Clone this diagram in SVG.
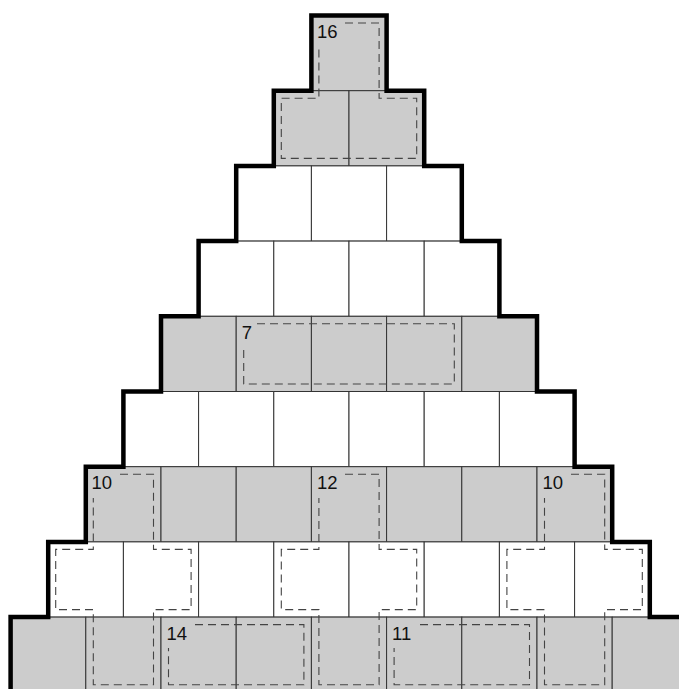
<svg xmlns="http://www.w3.org/2000/svg" width="679" height="689" viewBox="0 0 679 689">
<style>
.g{fill:#cccccc;stroke:#333333;stroke-width:1}
.w{fill:#ffffff;stroke:#333333;stroke-width:1}
.cage{fill:none;stroke:#444444;stroke-width:1.1;stroke-dasharray:8 5}
.lbl{font-family:"Liberation Sans",Arial,sans-serif;font-size:18.5px;fill:#111111}
.outline{fill:none;stroke:#000000;stroke-width:4.5;stroke-linejoin:miter;stroke-linecap:square}
</style>
<rect x="0" y="0" width="679" height="689" fill="#ffffff"/>
<g id="cells">
<g id="row0">
<rect id="c0-0" class="g" x="311.4" y="15.5" width="75.2" height="75.2"/>
</g>
<g id="row1">
<rect id="c1-0" class="g" x="273.8" y="90.7" width="75.2" height="75.2"/>
<rect id="c1-1" class="g" x="349" y="90.7" width="75.2" height="75.2"/>
</g>
<g id="row2">
<rect id="c2-0" class="w" x="236.2" y="165.9" width="75.2" height="75.2"/>
<rect id="c2-1" class="w" x="311.4" y="165.9" width="75.2" height="75.2"/>
<rect id="c2-2" class="w" x="386.6" y="165.9" width="75.2" height="75.2"/>
</g>
<g id="row3">
<rect id="c3-0" class="w" x="198.6" y="241.1" width="75.2" height="75.2"/>
<rect id="c3-1" class="w" x="273.8" y="241.1" width="75.2" height="75.2"/>
<rect id="c3-2" class="w" x="349" y="241.1" width="75.2" height="75.2"/>
<rect id="c3-3" class="w" x="424.2" y="241.1" width="75.2" height="75.2"/>
</g>
<g id="row4">
<rect id="c4-0" class="g" x="161" y="316.3" width="75.2" height="75.2"/>
<rect id="c4-1" class="g" x="236.2" y="316.3" width="75.2" height="75.2"/>
<rect id="c4-2" class="g" x="311.4" y="316.3" width="75.2" height="75.2"/>
<rect id="c4-3" class="g" x="386.6" y="316.3" width="75.2" height="75.2"/>
<rect id="c4-4" class="g" x="461.8" y="316.3" width="75.2" height="75.2"/>
</g>
<g id="row5">
<rect id="c5-0" class="w" x="123.4" y="391.5" width="75.2" height="75.2"/>
<rect id="c5-1" class="w" x="198.6" y="391.5" width="75.2" height="75.2"/>
<rect id="c5-2" class="w" x="273.8" y="391.5" width="75.2" height="75.2"/>
<rect id="c5-3" class="w" x="349" y="391.5" width="75.2" height="75.2"/>
<rect id="c5-4" class="w" x="424.2" y="391.5" width="75.2" height="75.2"/>
<rect id="c5-5" class="w" x="499.4" y="391.5" width="75.2" height="75.2"/>
</g>
<g id="row6">
<rect id="c6-0" class="g" x="85.8" y="466.7" width="75.2" height="75.2"/>
<rect id="c6-1" class="g" x="161" y="466.7" width="75.2" height="75.2"/>
<rect id="c6-2" class="g" x="236.2" y="466.7" width="75.2" height="75.2"/>
<rect id="c6-3" class="g" x="311.4" y="466.7" width="75.2" height="75.2"/>
<rect id="c6-4" class="g" x="386.6" y="466.7" width="75.2" height="75.2"/>
<rect id="c6-5" class="g" x="461.8" y="466.7" width="75.2" height="75.2"/>
<rect id="c6-6" class="g" x="537" y="466.7" width="75.2" height="75.2"/>
</g>
<g id="row7">
<rect id="c7-0" class="w" x="48.2" y="541.9" width="75.2" height="75.2"/>
<rect id="c7-1" class="w" x="123.4" y="541.9" width="75.2" height="75.2"/>
<rect id="c7-2" class="w" x="198.6" y="541.9" width="75.2" height="75.2"/>
<rect id="c7-3" class="w" x="273.8" y="541.9" width="75.2" height="75.2"/>
<rect id="c7-4" class="w" x="349" y="541.9" width="75.2" height="75.2"/>
<rect id="c7-5" class="w" x="424.2" y="541.9" width="75.2" height="75.2"/>
<rect id="c7-6" class="w" x="499.4" y="541.9" width="75.2" height="75.2"/>
<rect id="c7-7" class="w" x="574.6" y="541.9" width="75.2" height="75.2"/>
</g>
<g id="row8">
<rect id="c8-0" class="g" x="10.6" y="617.1" width="75.2" height="75.2"/>
<rect id="c8-1" class="g" x="85.8" y="617.1" width="75.2" height="75.2"/>
<rect id="c8-2" class="g" x="161" y="617.1" width="75.2" height="75.2"/>
<rect id="c8-3" class="g" x="236.2" y="617.1" width="75.2" height="75.2"/>
<rect id="c8-4" class="g" x="311.4" y="617.1" width="75.2" height="75.2"/>
<rect id="c8-5" class="g" x="386.6" y="617.1" width="75.2" height="75.2"/>
<rect id="c8-6" class="g" x="461.8" y="617.1" width="75.2" height="75.2"/>
<rect id="c8-7" class="g" x="537" y="617.1" width="75.2" height="75.2"/>
<rect id="c8-8" class="g" x="612.2" y="617.1" width="75.2" height="75.2"/>
</g>
</g>
<g id="cages">
<g id="cage16">
<path class="cage" d="M345,23 H379.1 V98.2 H416.7 V158.4 H281.3 V98.2 H318.9 V45"/>
<text class="lbl" x="317" y="37.8">16</text>
</g>
<g id="cage7">
<path class="cage" d="M257,323.8 H454.3 V384 H243.7 V346"/>
<text class="lbl" x="241.7" y="338.8">7</text>
</g>
<g id="cage10a">
<path class="cage" d="M120,474.2 H153.5 V549.4 H191.1 V609.6 H153.5 V684.8 H93.3 V609.6 H55.7 V549.4 H93.3 V498"/>
<text class="lbl" x="91.5" y="489.2">10</text>
</g>
<g id="cage12">
<path class="cage" d="M345,474.2 H379.1 V549.4 H416.7 V609.6 H379.1 V684.8 H318.9 V609.6 H281.3 V549.4 H318.9 V498"/>
<text class="lbl" x="317" y="489.2">12</text>
</g>
<g id="cage10b">
<path class="cage" d="M571,474.2 H604.7 V549.4 H642.3 V609.6 H604.7 V684.8 H544.5 V609.6 H506.9 V549.4 H544.5 V498"/>
<text class="lbl" x="542.5" y="489.2">10</text>
</g>
<g id="cage14">
<path class="cage" d="M195,624.6 H303.9 V684.8 H168.5 V648"/>
<text class="lbl" x="166.5" y="639.6">14</text>
</g>
<g id="cage11">
<path class="cage" d="M420,624.6 H529.5 V684.8 H394.1 V648"/>
<text class="lbl" x="392.1" y="639.6">11</text>
</g>
</g>
<g id="outline">
<path class="outline" d="M10.6,700 V617.1 H48.2 V541.9 H85.8 V466.7 H123.4 V391.5 H161 V316.3 H198.6 V241.1 H236.2 V165.9 H273.8 V90.7 H311.4 V15.5 H386.6 V90.7 H424.2 V165.9 H461.8 V241.1 H499.4 V316.3 H537 V391.5 H574.6 V466.7 H612.2 V541.9 H649.8 V617.1 H687.4 V700"/>
</g>
</svg>
